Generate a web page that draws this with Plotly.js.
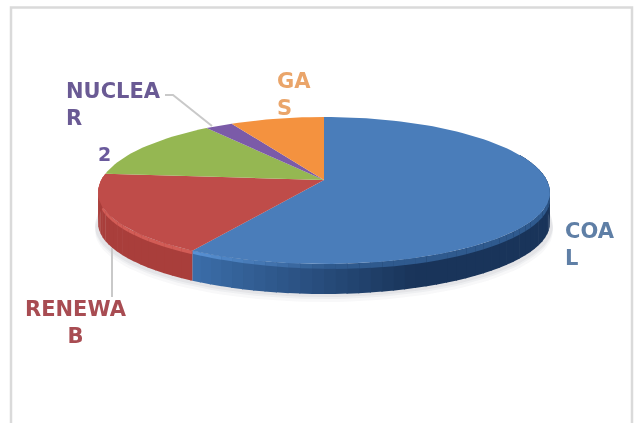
<!DOCTYPE html>
<html>
<head>
<meta charset="utf-8">
<script src="https://cdn.plot.ly/plotly-3.0.1.min.js"></script>
<style>
html,body{margin:0;padding:0;background:#fff;overflow:hidden}
#chart{width:635px;height:423px;filter:blur(0.6px)}
</style>
</head>
<body>
<div id="chart"></div>
<script>
// Data (share of the pie, clockwise from 12 o'clock)
const categories = ["COAL", "RENEWAB", "2", "NUCLEAR", "GAS"];
const shares = [59.9, 19.2, 12.2, 2.0, 6.7];
const labelTexts = ["COA<br>L", "RENEWA<br>B", "2", "NUCLEA<br>R", "GA<br>S"];

// Styles
const faceColors = ["#4a7dba", "#bf4c49", "#95b752", "#7b5ba8", "#f4923f"];
const labelColors = ["#5f7fa6", "#a84c52", "#6a5a9c", "#6a5a94", "#eaa56a"];
// x, y (vertical middle of the text block), anchor
const labelPlaces = [
  [563, 244.5, "left"],
  [75.5, 322, "center"],
  [96, 154, "left"],
  [64, 104, "left"],
  [275, 94.5, "left"]
];

// Pie geometry on a page-sized axis
const cx = 324, cy = 193, rx = 226, ryTop = 76, ryFront = 71, apexY = 180, depth = 30;
const rad = d => d * Math.PI / 180;
const px = d => cx + rx * Math.sin(rad(d));
const py = d => {
  const c = Math.cos(rad(d));
  return cy - (c > 0 ? ryTop : ryFront) * c;
};
const total = shares.reduce((a, b) => a + b, 0);

const edges = [0];
shares.forEach(v => edges.push(edges[edges.length - 1] + v / total * 360));

const hex = c => [1, 3, 5].map(i => parseInt(c.substr(i, 2), 16));
const mix = (a, b, t) => {
  t = Math.max(0, Math.min(1, t));
  const A = hex(a), B = hex(b);
  return "rgb(" + A.map((v, i) => Math.round(v + (B[i] - v) * t)).join(",") + ")";
};
const poly = (xs, ys, color) => ({
  type: "scatter", mode: "lines", x: xs, y: ys, fill: "toself", fillcolor: color,
  line: {width: 0, color: color}, hoverinfo: "skip", showlegend: false
});
const arc = (a, b, n) => {
  const out = [];
  for (let i = 0; i <= n; i++) out.push(a + (b - a) * i / n);
  return out;
};

const traces = [];

// Soft shadow under the disc
[[8, 0.035], [5, 0.05], [3, 0.06]].forEach(([extra, alpha]) => {
  const t = arc(60, 300, 90);
  traces.push(poly(
    t.map(d => px(d) + 3 * Math.sin(rad(d))),
    t.map(d => py(d) + depth + extra),
    "rgba(60,70,90," + alpha + ")"));
});

// Side wall: front half of the disc, strips that stop exactly on slice edges
const stops = [];
for (let d = 60; d < edges[2]; d += 3) stops.push(d);
stops.push(edges[1], edges[2]);
stops.sort((a, b) => a - b);
for (let k = 0; k < stops.length - 1; k++) {
  const a = stops[k], b = stops[k + 1];
  if (b - a < 0.01) continue;
  const mid = (a + b) / 2;
  const s = Math.sin(rad(mid));
  const idx = mid < edges[1] ? 0 : 1;
  const t0 = arc(a, Math.min(b + (b === edges[1] ? 0 : 0.3), edges[2]), 2);
  const back = t0.slice().reverse();
  let wall, bevel, bevelH;
  if (idx === 0) {
    const u = (s + 0.6) / 1.0;
    wall = mix("#3c6fab", "#19345a", u);
    bevel = mix("#5a94d8", "#2f5a8e", u * 1.6);
    bevelH = 3 + 3 * Math.max(0, Math.min(1, u));
  } else {
    wall = "#a93e3b";
    bevel = "#d25c56";
    bevelH = 3.5;
  }
  traces.push(poly(t0.map(px).concat(back.map(px)),
                   t0.map(py).concat(back.map(v => py(v) + depth)), wall));
  traces.push(poly(t0.map(px).concat(back.map(px)),
                   t0.map(py).concat(back.map(v => py(v) + bevelH)), bevel));
}

// Top face slices
shares.forEach((v, i) => {
  const t = arc(edges[i], edges[i + 1], Math.max(8, Math.round(v * 2)));
  traces.push(poly([cx].concat(t.map(px), [cx]), [apexY].concat(t.map(py), [apexY]), faceColors[i]));
});

// Leader lines
const leader = (xs, ys) => ({
  type: "scatter", mode: "lines", x: xs, y: ys,
  line: {color: "#c9c9c9", width: 2}, hoverinfo: "skip", showlegend: false
});
traces.push(leader([165, 173, 212], [95, 95, 126]));
traces.push(leader([112, 112], [248, 297]));

const annotations = categories.map((c, i) => ({
  xref: "x", yref: "y", x: labelPlaces[i][0], y: labelPlaces[i][1],
  xanchor: labelPlaces[i][2], yanchor: "middle", align: labelPlaces[i][2],
  showarrow: false, text: labelTexts[i],
  font: {family: "DejaVu Sans", size: labelTexts[i] === "2" ? 19 : 21, color: labelColors[i], weight: 700}
}));

const layout = {
  width: 635, height: 423, margin: {l: 0, r: 0, t: 0, b: 0},
  paper_bgcolor: "#fff", plot_bgcolor: "#fff",
  xaxis: {range: [0, 635], visible: false, fixedrange: true},
  yaxis: {range: [423, 0], visible: false, fixedrange: true},
  shapes: [{type: "rect", xref: "x", yref: "y", x0: 11, y0: 7.5, x1: 632, y1: 440,
            line: {color: "#dadada", width: 2.5}, layer: "below"}],
  annotations: annotations
};

Plotly.newPlot("chart", traces, layout, {displayModeBar: false, staticPlot: true});
</script>
</body>
</html>
